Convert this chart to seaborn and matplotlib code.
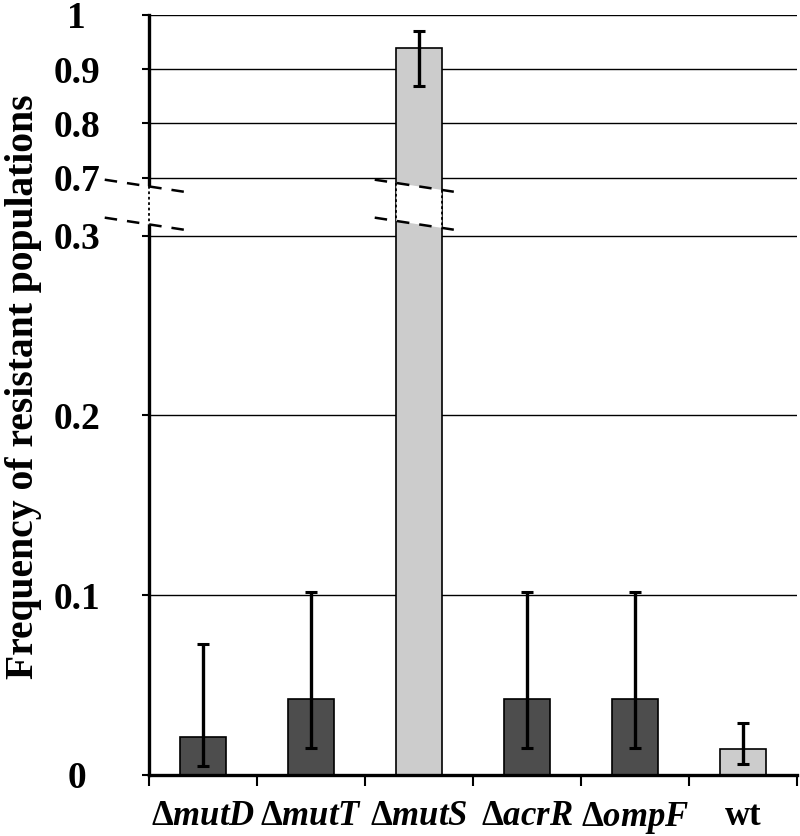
"""
Frequency of resistant populations per strain, with a broken y axis (0.3 -> 0.7)
"""

import numpy as np
import matplotlib
matplotlib.use("Agg")
import matplotlib.pyplot as plt
import seaborn as sns

# ----------------- Data -----------------
strains = [r"$\Delta mutD$", r"$\Delta mutT$", r"$\Delta mutS$",
           r"$\Delta acrR$", r"$\Delta ompF$", "wt"]
freq = [0.021, 0.042, 0.939, 0.042, 0.042, 0.0145]
err_low = [0.005, 0.015, 0.869, 0.015, 0.015, 0.006]
err_high = [0.073, 0.102, 0.971, 0.102, 0.102, 0.029]
bar_colors = ["#4d4d4d", "#4d4d4d", "#cccccc", "#4d4d4d", "#4d4d4d", "#cccccc"]
ytick_vals = [0, 0.1, 0.2, 0.3, 0.7, 0.8, 0.9, 1]
ytick_labels = ["0", "0.1", "0.2", "0.3", "0.7", "0.8", "0.9", "1"]

# ----------------- Style -----------------
sns.set_theme(style="white")
plt.rcParams["font.family"] = ["Liberation Serif", "DejaVu Serif"]
plt.rcParams["font.weight"] = "bold"
plt.rcParams["mathtext.fontset"] = "custom"
plt.rcParams["mathtext.rm"] = "Liberation Serif:bold"
plt.rcParams["mathtext.bf"] = "Liberation Serif:bold"
plt.rcParams["mathtext.it"] = "Liberation Serif:italic:bold"

# ----------------- Broken-axis scale -----------------
LO, HI = 0.3, 0.7          # break interval
GAP = 58 / 1800            # gap size (in lower-axis units)
UP = 543 / 1800            # slope of the upper part


def fwd(y):
    y = np.asarray(y, dtype=float)
    return np.where(y <= LO, y,
                    np.where(y <= HI, LO + (y - LO) * GAP / (HI - LO),
                             LO + GAP + (y - HI) * UP))


def inv(t):
    t = np.asarray(t, dtype=float)
    return np.where(t <= LO, t,
                    np.where(t <= LO + GAP, LO + (t - LO) * (HI - LO) / GAP,
                             HI + (t - LO - GAP) / UP))


fig = plt.figure(figsize=(8, 8.36), dpi=100)
ax = fig.add_axes([149 / 800, 61 / 836, 648 / 800, 760 / 836])

sns.barplot(x=strains, y=freq, hue=strains, palette=bar_colors, legend=False,
            width=0.42, edgecolor="black", linewidth=1.2, ax=ax, zorder=2)

freq_a = np.array(freq)
yerr = [freq_a - np.array(err_low), np.array(err_high) - freq_a]
ax.errorbar(range(len(strains)), freq, yerr=yerr, fmt="none", ecolor="black",
            elinewidth=2.4, capsize=4.5, capthick=2.2, zorder=3)

ax.set_yscale("function", functions=(fwd, inv))
ax.set_ylim(0, 1)
ax.set_xlim(-0.5, len(strains) - 0.5)

# ----------------- Axes decoration -----------------
ax.set_yticks(ytick_vals)
ax.set_yticklabels(ytick_labels, fontsize=27, fontweight="bold", ha="center")
ax.yaxis.set_minor_locator(matplotlib.ticker.NullLocator())
ax.tick_params(axis="y", which="major", length=5, width=1.5, direction="out",
               left=True, pad=47, colors="black")
ax.yaxis.grid(True, color="black", linewidth=1.0)
ax.set_axisbelow(True)

ax.set_xticks(range(len(strains)))
ax.set_xticklabels(strains, fontsize=25, fontweight="bold")
ax.set_xticks(np.arange(-0.5, len(strains)), minor=True)
ax.tick_params(axis="x", which="major", length=0, pad=18, colors="black")
ax.tick_params(axis="x", which="minor", length=8, width=1.5,
               direction="out", bottom=True, colors="black")

ax.set_ylabel("Frequency of resistant populations", fontsize=28.5,
              fontweight="bold", color="black")
ax.yaxis.set_label_coords(-0.165, 0.5105)

for side in ["top", "right"]:
    ax.spines[side].set_visible(False)
for side in ["left", "bottom"]:
    ax.spines[side].set_color("black")
    ax.spines[side].set_linewidth(2.4)

# ----------------- Break marks -----------------
def to_y(px_from_break_top):
    # pixel offset below the 0.7 line -> data value inside the gap
    return HI - (HI - LO) * px_from_break_top / 58


def break_mark(xc, half_w, clip):
    # two slanted dashed lines, white band between them, dotted edges
    xl, xr = xc - 0.41, xc + 0.38
    up = (to_y(2), to_y(15))
    lo = (to_y(40), to_y(53))

    def line_y(line, x):
        return line[0] + (x - xl) * (line[1] - line[0]) / (xr - xl)

    ex = [xc - half_w, xc + half_w]
    poly_x = [ex[0], ex[1], ex[1], ex[0]]
    poly_y = [line_y(up, ex[0]), line_y(up, ex[1]),
              line_y(lo, ex[1]), line_y(lo, ex[0])]
    ax.fill(poly_x, poly_y, color="white", zorder=5, clip_on=clip, lw=0)
    for x in ex if half_w > 0.05 else [xc]:
        ax.plot([x, x], [line_y(up, x), line_y(lo, x)], color="black",
                lw=1.3, ls=(0, (1.5, 1.5)), zorder=6, clip_on=False)
    for line in (up, lo):
        ax.plot([xl, xr], list(line), color="black", lw=1.8,
                ls=(0, (5, 4)), zorder=7, clip_on=False)


break_mark(-0.5, 0.03, False)
break_mark(2, 0.21, True)

fig.savefig("out.png", dpi=100)
plt.close(fig)
